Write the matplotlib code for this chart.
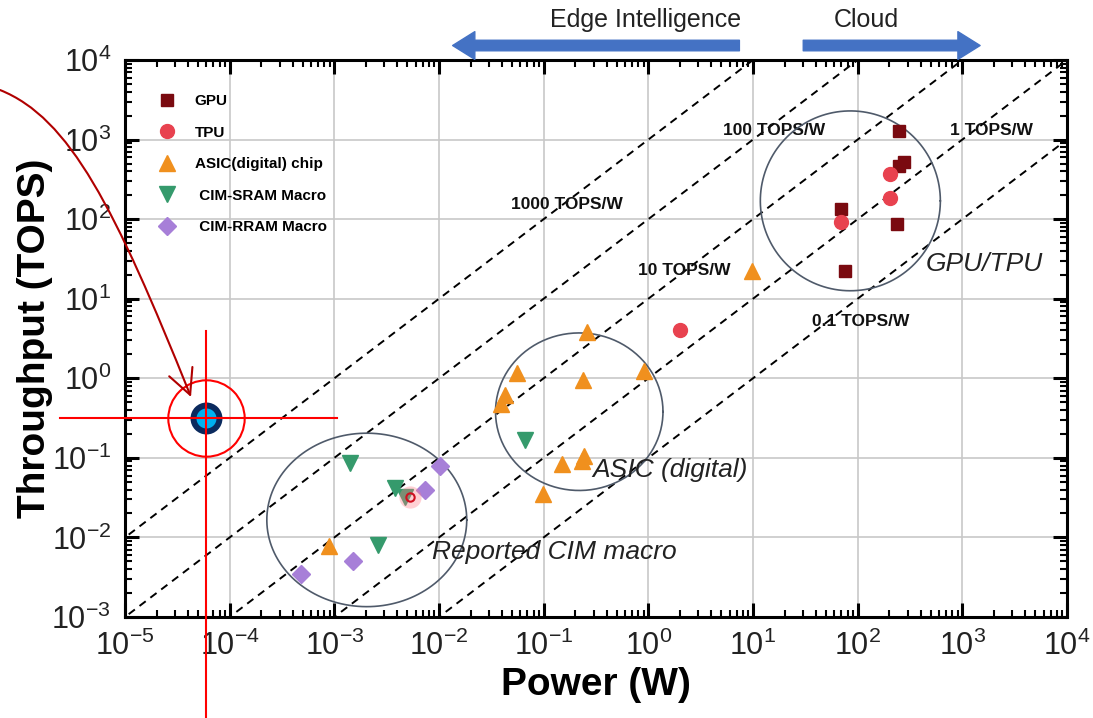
import numpy as np
import matplotlib.pyplot as plt
from matplotlib.patches import FancyArrowPatch
from matplotlib.path import Path
from matplotlib.ticker import LogLocator, FuncFormatter

plt.rcParams['font.family'] = ['Liberation Sans', 'DejaVu Sans']
plt.rcParams['mathtext.fontset'] = 'custom'
plt.rcParams['mathtext.rm'] = 'Liberation Sans'
plt.rcParams['mathtext.it'] = 'Liberation Sans:italic'
plt.rcParams['mathtext.bf'] = 'Liberation Sans:bold'

# power (W) vs throughput (TOPS) for each device class
gpu_power = [247, 277, 247, 70, 236, 75]
gpu_tops = [1270, 520, 460, 134, 86, 22]
tpu_power = [202, 202, 70, 2.0]
tpu_tops = [366, 184, 92, 4.0]
asic_power = [9.8, 0.26, 0.056, 0.24, 0.91, 0.043, 0.039, 0.15, 0.245, 0.23, 0.098, 0.00089]
asic_tops = [22, 3.8, 1.15, 0.94, 1.22, 0.61, 0.47, 0.083, 0.105, 0.091, 0.035, 0.0078]
sram_power = [0.0014, 0.0038, 0.0047, 0.0026, 0.066]
sram_tops = [0.087, 0.042, 0.032, 0.0081, 0.167]
rram_power = [0.0102, 0.0073, 0.0015, 0.00048]
rram_tops = [0.078, 0.040, 0.0050, 0.0035]
glow_power = [0.0053]
glow_tops = [0.032]
mark_power = 6.0e-5
mark_tops = 0.316

# constant energy-efficiency lines
efficiency = [1000, 100, 10, 1, 0.1]
eff_labels = ['1000 TOPS/W', '100 TOPS/W', '10 TOPS/W', '1 TOPS/W', '0.1 TOPS/W']
eff_label_pos = [(-0.78, 2.19), (1.20, 3.12), (0.34, 1.35), (3.28, 3.12), (2.03, 0.71)]

# cluster outlines: centre and radii in decades
groups = ['GPU/TPU', 'ASIC (digital)', 'Reported CIM macro']
group_shape = [(1.93, 2.23, 0.86, 1.13), (-0.66, -0.42, 0.80, 0.99), (-2.69, -1.78, 0.955, 1.09)]
group_label_pos = [(3.21, 1.43), (0.21, -1.15), (-0.90, -2.18)]

fig = plt.figure(figsize=(10.93, 7.18), dpi=100, facecolor='white')
ax = fig.add_axes([125 / 1093, 101 / 718, 942 / 1093, 557 / 718])
ax.set_xscale('log')
ax.set_yscale('log')

for axis in (ax.xaxis, ax.yaxis):
    axis.set_major_locator(LogLocator(base=10, numticks=20))
    axis.set_minor_locator(LogLocator(base=10, subs=np.arange(2, 10), numticks=20))
    axis.set_major_formatter(FuncFormatter(lambda v, _: r'$\mathregular{10^{%d}}$' % round(np.log10(v))))

ax.tick_params(which='both', direction='in', top=True, right=True, colors='black',
               labelcolor='#222222')
ax.tick_params(which='major', length=10, width=2.2, labelsize=22, pad=10)
ax.tick_params(which='minor', length=5, width=1.5)
for s in ax.spines.values():
    s.set_linewidth(2.2)
ax.grid(True, which='major', color='#c8c8c8', lw=1.2, zorder=0)
ax.set_axisbelow(True)

x_line = np.array([1e-6, 1e5])
for k in efficiency:
    ax.plot(x_line, k * x_line, ls=(0, (4, 3)), color='black', lw=1.4, zorder=2)
for lab, (lx, ly) in zip(eff_labels, eff_label_pos):
    ax.text(10 ** lx, 10 ** ly, lab, fontsize=12.5, fontweight='bold', color='#111111',
            ha='center', va='center', zorder=3)

t = np.linspace(0, 2 * np.pi, 300)
for (cx, cy, rx, ry), name, (lx, ly) in zip(group_shape, groups, group_label_pos):
    ax.plot(10 ** (cx + rx * np.cos(t)), 10 ** (cy + ry * np.sin(t)), color='#4f5a6a', lw=1.2, zorder=3)
    ax.text(10 ** lx, 10 ** ly, name, fontsize=19, style='italic', color='#222222',
            ha='center', va='center', zorder=3)

ax.plot(gpu_power, gpu_tops, 's', ms=9, color='#7a0a10', ls='none', label='GPU', zorder=5)
ax.plot(tpu_power, tpu_tops, 'o', ms=10, color='#e8424f', ls='none', label='TPU', zorder=5)
ax.plot(asic_power, asic_tops, '^', ms=11, color='#f0901e', ls='none', label='ASIC(digital) chip', zorder=5)
ax.plot(sram_power, sram_tops, 'v', ms=11, color='#359a6c', ls='none', label=' CIM-SRAM Macro', zorder=5)
ax.plot(rram_power, rram_tops, 'D', ms=9, color='#a77fd8', ls='none', label=' CIM-RRAM Macro', zorder=5)
ax.plot(glow_power, glow_tops, 'o', ms=16, color='#ff7a85', alpha=0.35, mec='none', zorder=5)
ax.plot(glow_power, glow_tops, 'o', ms=6, mfc='none', mec='#d01020', mew=1.5, zorder=6)

ax.legend(loc='upper left', bbox_to_anchor=(0.03, 0.95), frameon=False, borderaxespad=0,
          handlelength=1.0, handletextpad=1.3, labelspacing=1.15,
          prop={'weight': 'bold', 'size': 11})

# highlighted device with crosshair
ax.plot(mark_power, mark_tops, 'o', ms=18.7, mfc='#00b0f0', mec='#0b2a5e', mew=4.3,
        clip_on=False, zorder=10)
ax.plot(mark_power, mark_tops, 'o', ms=55, mfc='none', mec='#ff0000', mew=1.5,
        clip_on=False, zorder=11)
ax.plot([10 ** -5.62, 10 ** -2.97], [mark_tops, mark_tops], color='#ff0000', lw=1.5,
        clip_on=False, zorder=11)
ax.plot([mark_power, mark_power], [10 ** 0.6, 10 ** -4.4], color='#ff0000', lw=1.5,
        clip_on=False, zorder=11)

# edge / cloud arrows above the plot
xt = ax.get_xaxis_transform()
blue = '#4472c4'
arrow_style = 'simple,head_length=0.8,head_width=1.0,tail_width=0.38'
ax.annotate('', xy=(10 ** -1.87, 1.026), xytext=(10 ** 0.87, 1.026), xycoords=xt, textcoords=xt,
            arrowprops=dict(arrowstyle=arrow_style, color=blue, mutation_scale=20,
                            shrinkA=0, shrinkB=0),
            annotation_clip=False)
ax.annotate('', xy=(10 ** 3.17, 1.026), xytext=(10 ** 1.48, 1.026), xycoords=xt, textcoords=xt,
            arrowprops=dict(arrowstyle=arrow_style, color=blue, mutation_scale=20,
                            shrinkA=0, shrinkB=0),
            annotation_clip=False)
ax.text(10 ** -0.03, 1.072, 'Edge Intelligence', transform=xt, fontsize=18, color='#222222',
        ha='center', va='center')
ax.text(10 ** 2.08, 1.072, 'Cloud', transform=xt, fontsize=18, color='#222222',
        ha='center', va='center')

# curved pointer into the highlighted device
curve = Path([(0.0, 6.28), (0.7, 6.0), (1.15, 5.1), (1.91, 3.21)],
             [Path.MOVETO, Path.CURVE4, Path.CURVE4, Path.CURVE4])
fig.add_artist(FancyArrowPatch(path=curve, arrowstyle='->,head_length=1.0,head_width=0.5',
                               mutation_scale=18, color='#b00000', lw=1.5,
                               transform=fig.dpi_scale_trans))

ax.set_xlim(1e-5, 1e4)
ax.set_ylim(1e-3, 1e4)
ax.set_xlabel('Power (W)', fontsize=28, fontweight='bold')
ax.set_ylabel('Throughput (TOPS)', fontsize=28, fontweight='bold')
ax.xaxis.set_label_coords(0.5, -0.09)
ax.yaxis.set_label_coords(-0.076, 0.5)

fig.savefig('out.png', dpi=100)
